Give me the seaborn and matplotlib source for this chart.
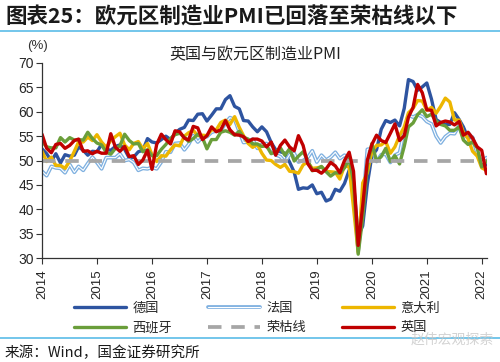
import numpy as np
import pandas as pd
import matplotlib
matplotlib.use("Agg")
import matplotlib.pyplot as plt
import matplotlib.patheffects as pe
import seaborn as sns

# ==================== DATA ====================
START = "2014-07-01"

germany = [52.4, 51.4, 49.9, 51.4, 49.5, 51.2,
           50.9, 51.1, 52.8, 52.1, 51.1, 51.9, 51.8, 53.3, 52.3, 52.1, 52.9, 53.2,
           52.3, 50.5, 50.7, 51.8, 52.1, 54.5, 53.8, 53.6, 54.3, 55.0, 54.3, 55.6,
           56.4, 56.8, 58.3, 58.2, 59.5, 59.6, 58.1, 59.3, 60.6, 60.6, 62.5, 63.3,
           61.1, 60.6, 58.2, 58.1, 56.9, 55.9, 56.9, 55.9, 53.7, 52.2, 51.8, 51.5,
           49.7, 47.6, 44.1, 44.4, 44.3, 45.0, 43.2, 43.5, 41.7, 42.1, 44.1, 43.7,
           45.3, 48.0, 45.4, 34.5, 36.6, 45.2, 51.0, 52.2, 56.4, 58.2, 57.8, 58.3,
           57.1, 60.7, 66.6, 66.2, 64.4, 65.1, 65.9, 62.6, 58.4, 57.8, 57.4, 57.4,
           59.8, 58.4, 56.9, 54.6, 54.8, 52.0, 49.3, 49.1]

france = [47.8, 46.9, 48.8, 48.5, 48.4, 47.5,
          49.2, 47.6, 48.8, 48.0, 49.4, 50.7, 49.6, 48.3, 50.6, 50.6, 50.6, 51.4,
          50.0, 50.2, 49.6, 48.0, 48.4, 48.3, 48.6, 48.3, 49.7, 51.8, 51.7, 53.5,
          53.6, 52.2, 53.3, 55.1, 53.8, 54.8, 54.9, 55.8, 56.1, 56.1, 57.7, 58.8,
          58.4, 55.9, 53.7, 53.8, 54.4, 52.5, 53.3, 53.5, 52.5, 51.2, 50.8, 49.7,
          51.2, 51.5, 49.7, 50.0, 50.6, 52.0, 49.7, 51.1, 50.1, 50.7, 51.7, 50.4,
          51.1, 49.8, 43.2, 31.5, 40.6, 52.3, 52.4, 49.8, 51.2, 51.3, 49.6, 51.1,
          51.6, 56.1, 59.3, 58.9, 59.4, 59.0, 58.0, 57.5, 55.0, 53.6, 54.9, 55.6,
          55.5, 57.2, 54.7, 55.7, 54.6, 51.4, 49.5, 50.6]

italy = [51.9, 49.8, 50.7, 49.0, 49.0, 48.4,
         49.9, 51.9, 53.8, 53.8, 54.8, 54.1, 55.3, 53.8, 52.7, 54.1, 54.9, 55.6,
         53.2, 52.2, 53.5, 53.9, 52.4, 53.5, 51.2, 49.8, 51.0, 50.9, 52.2, 53.2,
         53.0, 55.0, 55.7, 56.2, 55.1, 55.2, 55.1, 56.3, 56.3, 57.8, 58.3, 57.4,
         59.0, 56.8, 55.1, 53.5, 52.7, 53.3, 51.5, 50.1, 50.0, 49.2, 48.6, 49.2,
         47.8, 47.7, 47.4, 49.1, 49.7, 48.4, 48.5, 48.7, 47.8, 47.7, 47.6, 46.2,
         48.9, 48.7, 40.3, 31.1, 45.4, 47.5, 51.9, 53.1, 53.2, 53.9, 51.5, 52.8,
         55.1, 56.9, 59.8, 60.7, 62.3, 62.2, 60.3, 60.9, 59.7, 61.1, 62.8, 62.0,
         58.3, 58.3, 55.8, 54.5, 51.9, 50.9, 48.5, 48.0]

spain = [53.9, 52.8, 52.6, 52.6, 54.7, 53.8,
         54.7, 54.2, 54.3, 54.2, 55.8, 54.5, 53.6, 53.2, 51.7, 51.3, 52.5, 53.0,
         55.4, 54.1, 53.4, 53.5, 51.8, 52.2, 51.0, 51.0, 52.3, 53.3, 54.5, 55.3,
         55.6, 54.8, 53.9, 54.5, 55.4, 54.7, 52.4, 54.3, 54.3, 55.8, 56.1, 55.8,
         55.2, 56.0, 54.8, 54.4, 53.4, 53.4, 52.9, 53.0, 51.4, 51.8, 52.6, 51.1,
         52.4, 49.9, 50.9, 51.8, 50.1, 47.9, 48.2, 48.8, 47.7, 46.8, 47.5, 47.4,
         48.5, 50.4, 45.7, 30.8, 38.3, 49.0, 53.5, 49.9, 50.8, 52.5, 49.8, 51.0,
         49.3, 52.9, 56.9, 57.7, 59.4, 60.4, 59.0, 59.5, 58.1, 57.4, 57.1, 56.2,
         56.2, 56.9, 54.2, 53.3, 53.8, 52.6, 48.7, 49.9]

uk = [55.4, 52.5, 51.6, 53.3, 53.5, 52.5,
      53.1, 54.1, 54.4, 51.9, 52.0, 51.4, 51.9, 51.5, 51.5, 55.5, 52.7, 51.9,
      52.9, 50.8, 51.0, 49.2, 50.1, 52.1, 48.2, 53.3, 55.4, 54.3, 53.4, 56.1,
      55.9, 54.6, 54.2, 57.0, 56.7, 54.3, 55.1, 56.9, 55.9, 56.3, 58.2, 56.3,
      55.3, 55.2, 54.9, 53.9, 54.4, 54.4, 54.0, 52.8, 53.8, 51.1, 53.1, 54.2,
      52.8, 52.0, 55.1, 53.1, 49.4, 48.0, 48.0, 47.4, 48.3, 49.6, 48.9, 47.5,
      50.0, 51.7, 47.8, 32.6, 40.7, 50.1, 53.3, 55.2, 54.1, 53.7, 55.6, 57.5,
      54.1, 55.1, 58.9, 60.9, 65.6, 63.9, 60.4, 60.3, 57.1, 57.8, 58.1, 57.9,
      57.3, 58.0, 55.2, 55.8, 54.6, 52.8, 52.1, 47.3]

boom_bust = 50
years = list(range(2014, 2023))

# ==================== STYLE ====================
BLUE = "#2E54A0"
LIGHT_BLUE = "#7EB0E0"
GOLD = "#EDB600"
GREEN = "#6A9E3A"
GRAY = "#A6A6A6"
RED = "#C00000"
RULE = "#5BBCE8"

sns.set_style("ticks")
plt.rcParams["font.family"] = ["Liberation Sans", "Noto Sans CJK SC", "DejaVu Sans"]
CJK = ["Noto Sans CJK SC", "Liberation Sans", "DejaVu Sans"]

dates = pd.date_range(START, periods=len(uk), freq="MS")
df = pd.DataFrame({"date": dates, "德国": germany, "法国": france, "意大利": italy,
                   "西班牙": spain, "英国": uk})

fig = plt.figure(figsize=(5.0, 3.62), dpi=100)
ax = fig.add_axes([0.084, 0.287, 0.89, 0.539])

lw = 2.4
sns.lineplot(data=df, x="date", y="德国", ax=ax, color=BLUE, lw=lw, label="德国")
sns.lineplot(data=df, x="date", y="法国", ax=ax, color="white", lw=0.8, label="法国",
             path_effects=[pe.Stroke(linewidth=2.7, foreground=LIGHT_BLUE), pe.Normal()])
sns.lineplot(data=df, x="date", y="意大利", ax=ax, color=GOLD, lw=lw, label="意大利")
sns.lineplot(data=df, x="date", y="西班牙", ax=ax, color=GREEN, lw=lw, label="西班牙")
ax.plot(dates, [boom_bust] * len(dates), color=GRAY, lw=2.7, dashes=(3.6, 2.6),
        label="荣枯线")
sns.lineplot(data=df, x="date", y="英国", ax=ax, color=RED, lw=lw, label="英国")

ax.set_ylim(30, 70)
ax.set_yticks(range(30, 71, 5))
ax.set_xlim(dates[0], dates[-1] + pd.Timedelta(days=4))
ticks = pd.to_datetime([f"{y}-07-01" for y in years])
ax.set_xticks(ticks)
ax.set_xticklabels([str(y) for y in years], rotation=90, fontsize=9.5)
ax.tick_params(axis="y", labelsize=10, length=4, width=0.8, pad=2, color="#333333")
ax.tick_params(axis="x", length=4, width=0.8, pad=4, color="#333333")
ax.set_xlabel("")
ax.set_ylabel("")
for s in ["top", "right"]:
    ax.spines[s].set_visible(False)
for s in ["left", "bottom"]:
    ax.spines[s].set_linewidth(0.9)
    ax.spines[s].set_color("#333333")

# legend: 3 columns, filled row by row
ax.legend_.remove()
handles, labels = ax.get_legend_handles_labels()
hmap = dict(zip(labels, handles))
order = ["德国", "西班牙", "法国", "荣枯线", "意大利", "英国"]
leg = fig.legend([hmap[k] for k in order], order, loc="upper left",
                 bbox_to_anchor=(0.135, 1 - 295 / 362), ncol=3, frameon=False,
                 prop={"family": CJK, "size": 9.5}, handlelength=3.9,
                 columnspacing=2.75, handletextpad=0.5, labelspacing=0.5,
                 borderpad=0.0)

# titles and notes
fig.text(0.01, 1 - 17 / 362, "图表25：欧元区制造业PMI已回落至荣枯线以下", family=CJK,
         fontsize=15.5, fontweight="bold", va="center", ha="left", color="#1A1A1A")
fig.add_artist(plt.Line2D([0, 1], [1 - 31 / 362] * 2, color=RULE, lw=1.2,
                          transform=fig.transFigure))
fig.text(0.51, 1 - 55 / 362, "英国与欧元区制造业PMI", family=CJK, fontsize=11.5,
         ha="center", va="center", color="#222222")
fig.text(0.076, 1 - 46 / 362, "(%)", fontsize=9.5, ha="center", va="center",
         color="#333333")
fig.add_artist(plt.Line2D([0, 1], [1 - 338 / 362] * 2, color=RULE, lw=1.2,
                          transform=fig.transFigure))
fig.text(0.01, 1 - 353 / 362, "来源：Wind，国金证券研究所", family=CJK, fontsize=10.5,
         ha="left", va="center", color="#1A1A1A")
fig.text(0.822, 1 - 340 / 362, "赵伟宏观探索", family=CJK, fontsize=10,
         ha="left", va="center", color="#C8C8C8", alpha=0.8)

fig.savefig("out.png", dpi=100)
